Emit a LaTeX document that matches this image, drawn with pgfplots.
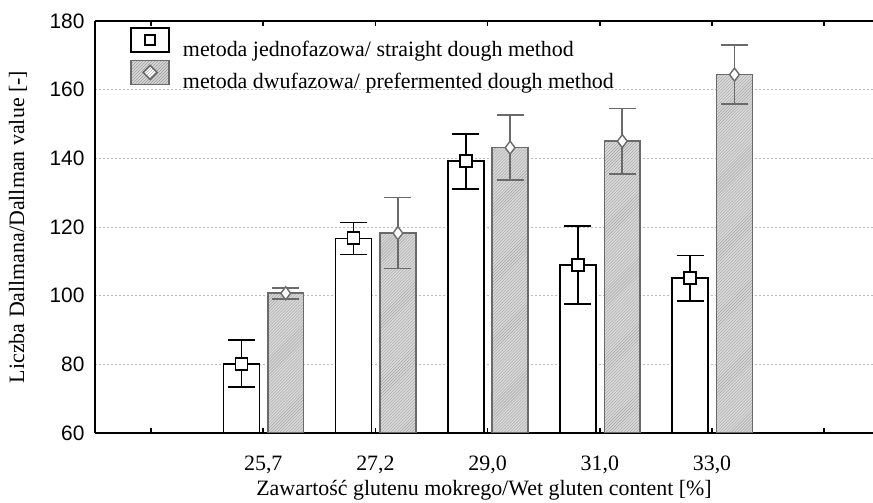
\documentclass[border=0pt]{standalone}
\usepackage{fontspec}
\setmainfont{Liberation Serif}
\newfontfamily\arialf{Liberation Sans}
\usepackage{pgfplots}
\pgfplotsset{compat=1.18}
\usepackage{pgfplotstable}
\usetikzlibrary{patterns}
\definecolor{bargray}{HTML}{DADADA}
\definecolor{hatchgray}{HTML}{A0A0A0}
\definecolor{edgegray}{HTML}{6A6A6A}
\definecolor{gridgray}{HTML}{BBBBBB}

\pgfplotstableread{
x y ep em
0.805 80.1 7.0 6.8
1.805 116.7 4.6 4.7
2.805 139.2 7.9 8.2
3.805 108.9 11.3 11.4
4.805 105.2 6.5 6.8
}\straight
\pgfplotstableread{
x y ep em
1.2 100.7 1.6 1.7
2.2 118.2 10.4 10.3
3.2 143.1 9.5 9.4
4.2 145.0 9.5 9.5
5.2 164.4 8.5 8.6
}\prefer

\begin{document}
\begin{tikzpicture}
\begin{axis}[
  at={(0,0)}, anchor=south west,
  scale only axis, width=778bp, height=412bp,
  xmin=-0.5, xmax=6.435, ymin=60, ymax=180,
  axis x line*=box, axis y line*=left,
  axis line style={line width=1.6bp, black},
  xtick={0,1,2,3,4,5,6},
  xticklabels={{},{25,7},{27,2},{29,0},{31,0},{33,0},{}},
  x tick style={line width=1.6bp, black},
  major tick length=5bp,
  ytick={60,80,100,120,140,160,180},
  y tick style={draw=none},
  ymajorgrids,
  grid style={gridgray, line width=0.8bp, dash pattern=on 2bp off 2bp},
  /pgf/number format/assume math mode=true,
  xticklabel style={font=\fontsize{22}{26}\selectfont, anchor=base, yshift=-37bp},
  yticklabel style={font=\arialf\fontsize{21}{24}\selectfont, xshift=-7bp},
  xlabel={Zawartość glutenu mokrego/Wet gluten content [\%]},
  ylabel={Liczba Dallmana/Dallman value [-]},
  every axis x label/.style={at={(axis description cs:0.5,-0.1505)}, anchor=base, font=\fontsize{22}{26}\selectfont},
  every axis y label/.style={at={(axis description cs:-0.099,0.5)}, rotate=90, anchor=center, font=\fontsize{22}{26}\selectfont},
  legend style={at={(axis description cs:0.0452,0.985)}, anchor=north west, draw=none, fill=none, inner sep=0pt,
    font=\fontsize{22}{26}\selectfont, row sep=0bp, column sep=11bp},
  legend cell align=left,
]
\addplot[ybar, bar width=0.32, bar shift=0, draw=black, line width=1.6bp, fill=white,
  mark=square*, mark size=6bp, mark options={fill=white, draw=black, line width=1.8bp},
  legend image code/.code={
    \draw[line width=1.6bp, black, fill=white] (0bp,-3bp) rectangle (38bp,21bp);
    \draw[line width=1.6bp, black, fill=white] (14bp,4bp) rectangle (24bp,14bp);},
  error bars/.cd, y dir=both, y explicit,
  error bar style={line width=1.8bp, black},
  error mark=-,
  error mark options={rotate=90, line width=1.8bp, black, mark size=13.5bp}]
  table[x=x, y=y, y error plus=ep, y error minus=em]{\straight};
\addlegendentry{metoda jednofazowa/ straight dough method}
\addplot[ybar, bar width=0.32, bar shift=0, draw=edgegray, line width=1.6bp, fill=bargray,
  postaction={pattern=north east lines, pattern color=hatchgray},
  mark=diamond*, mark size=6.5bp, mark options={fill=white, draw=edgegray, line width=1.4bp},
  legend image code/.code={
    \draw[line width=1.6bp, edgegray, fill=bargray, postaction={pattern=north east lines, pattern color=hatchgray}] (0bp,-3bp) rectangle (38bp,21bp);
    \draw[line width=1.3bp, edgegray, fill=white] (19bp,2bp) -- (26bp,9bp) -- (19bp,16bp) -- (12bp,9bp) -- cycle;},
  error bars/.cd, y dir=both, y explicit,
  error bar style={line width=1.8bp, edgegray},
  error mark=-,
  error mark options={rotate=90, line width=1.8bp, edgegray, mark size=13.5bp}]
  table[x=x, y=y, y error plus=ep, y error minus=em]{\prefer};
\addlegendentry{metoda dwufazowa/ prefermented dough method}
\end{axis}
\pgfresetboundingbox
\path[use as bounding box] (-95bp,-70bp) rectangle (778bp,433bp);
\end{tikzpicture}
\end{document}
